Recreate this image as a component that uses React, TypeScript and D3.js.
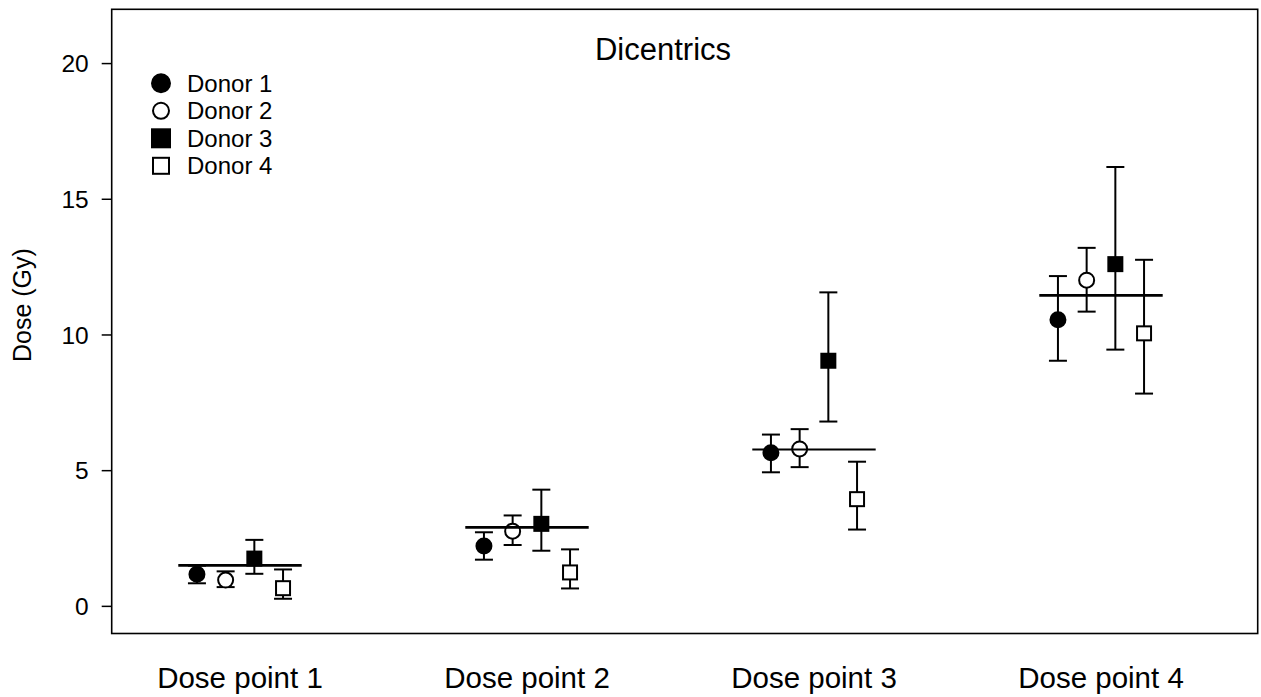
import * as d3 from "d3";

const categories = ["Dose point 1", "Dose point 2", "Dose point 3", "Dose point 4"];
const donors = ["Donor 1", "Donor 2", "Donor 3", "Donor 4"];

// values per donor, one per dose point (Gy)
const donor1 = [1.18, 2.22, 5.66, 10.56];
const donor1Low = [0.85, 1.72, 4.94, 9.05];
const donor1High = [1.5, 2.73, 6.33, 12.17];

const donor2 = [0.97, 2.77, 5.8, 12.02];
const donor2Low = [0.71, 2.26, 5.13, 10.86];
const donor2High = [1.29, 3.35, 6.53, 13.21];

const donor3 = [1.76, 3.04, 9.05, 12.61];
const donor3Low = [1.2, 2.05, 6.81, 9.46];
const donor3High = [2.45, 4.3, 11.57, 16.19];

const donor4 = [0.67, 1.25, 3.95, 10.06];
const donor4Low = [0.28, 0.66, 2.83, 7.84];
const donor4High = [1.36, 2.1, 5.33, 12.77];

const groupMeans = [1.51, 2.91, 5.78, 11.46];
const yTicks = [0, 5, 10, 15, 20];

const W = 1261;
const H = 697;
const font = "Arial, 'Liberation Sans', Helvetica, sans-serif";

const series = [
  { name: donors[0], v: donor1, lo: donor1Low, hi: donor1High, shape: "circle", filled: true },
  { name: donors[1], v: donor2, lo: donor2Low, hi: donor2High, shape: "circle", filled: false },
  { name: donors[2], v: donor3, lo: donor3Low, hi: donor3High, shape: "square", filled: true },
  { name: donors[3], v: donor4, lo: donor4Low, hi: donor4High, shape: "square", filled: false },
];

function Marker({ x, y, shape, filled, size }: any) {
  const fill = filled ? "#000" : "#fff";
  if (shape === "circle") {
    return <circle cx={x} cy={y} r={size / 2} fill={fill} stroke="#000" strokeWidth={2} />;
  }
  return (
    <rect x={x - size / 2} y={y - size / 2} width={size} height={size} fill={fill} stroke="#000" strokeWidth={2} />
  );
}

export default function App() {
  const left = 111.7;
  const right = 1257.7;
  const top = 9.3;
  const bottom = 633.5;

  const x = d3.scaleLinear().domain([0.553, 4.546]).range([left, right]);
  const y = d3.scaleLinear().domain([-1, 22]).range([bottom, top]);

  const offset = (j: number) => (j - 1.5) * 0.1;
  const halfMean = 0.215;
  const capHalf = 9;

  return (
    <svg width={W} height={H} style={{ position: "absolute", left: 0, top: 0, background: "#fff" }}>
      <rect x={0} y={0} width={W} height={H} fill="#fff" />
      <rect x={left} y={top} width={right - left} height={bottom - top} fill="none" stroke="#000" strokeWidth={1.6} />

      {/* y axis */}
      {yTicks.map((t) => (
        <g key={t}>
          <line x1={left - 10} x2={left} y1={y(t)} y2={y(t)} stroke="#000" strokeWidth={1.5} />
          <text x={left - 23} y={y(t)} dy="0.35em" textAnchor="end" fontFamily={font} fontSize={24.5}>
            {t}
          </text>
        </g>
      ))}
      <text
        transform={`translate(31,${y(11.1)}) rotate(-90)`}
        textAnchor="middle"
        fontFamily={font}
        fontSize={25}
      >
        Dose (Gy)
      </text>

      {/* x labels */}
      {categories.map((c, i) => (
        <text key={c} x={x(i + 1)} y={688} textAnchor="middle" fontFamily={font} fontSize={29.5}>
          {c}
        </text>
      ))}

      <text x={663} y={60} textAnchor="middle" fontFamily={font} fontSize={31}>
        Dicentrics
      </text>

      {/* error bars and markers */}
      {series.map((s, j) =>
        s.v.map((v, i) => {
          const cx = x(i + 1 + offset(j));
          return (
            <g key={`${j}-${i}`}>
              <line x1={cx} x2={cx} y1={y(s.lo[i])} y2={y(s.hi[i])} stroke="#000" strokeWidth={2} />
              <line x1={cx - capHalf} x2={cx + capHalf} y1={y(s.lo[i])} y2={y(s.lo[i])} stroke="#000" strokeWidth={2} />
              <line x1={cx - capHalf} x2={cx + capHalf} y1={y(s.hi[i])} y2={y(s.hi[i])} stroke="#000" strokeWidth={2} />
              <Marker x={cx} y={y(v)} shape={s.shape} filled={s.filled} size={s.shape === "circle" ? 15 : 14} />
            </g>
          );
        })
      )}

      {/* group means */}
      {groupMeans.map((m, i) => (
        <line
          key={i}
          x1={x(i + 1 - halfMean)}
          x2={x(i + 1 + halfMean)}
          y1={y(m)}
          y2={y(m)}
          stroke="#000"
          strokeWidth={i === 2 ? 1.8 : 2.6}
        />
      ))}

      {/* legend */}
      {series.map((s, j) => {
        const ly = 83.3 + j * 27.5;
        return (
          <g key={s.name}>
            <Marker x={161} y={ly} shape={s.shape} filled={s.filled} size={s.filled ? 18 : 16} />
            <text x={187} y={ly} dy="0.36em" fontFamily={font} fontSize={24}>
              {s.name}
            </text>
          </g>
        );
      })}
    </svg>
  );
}
